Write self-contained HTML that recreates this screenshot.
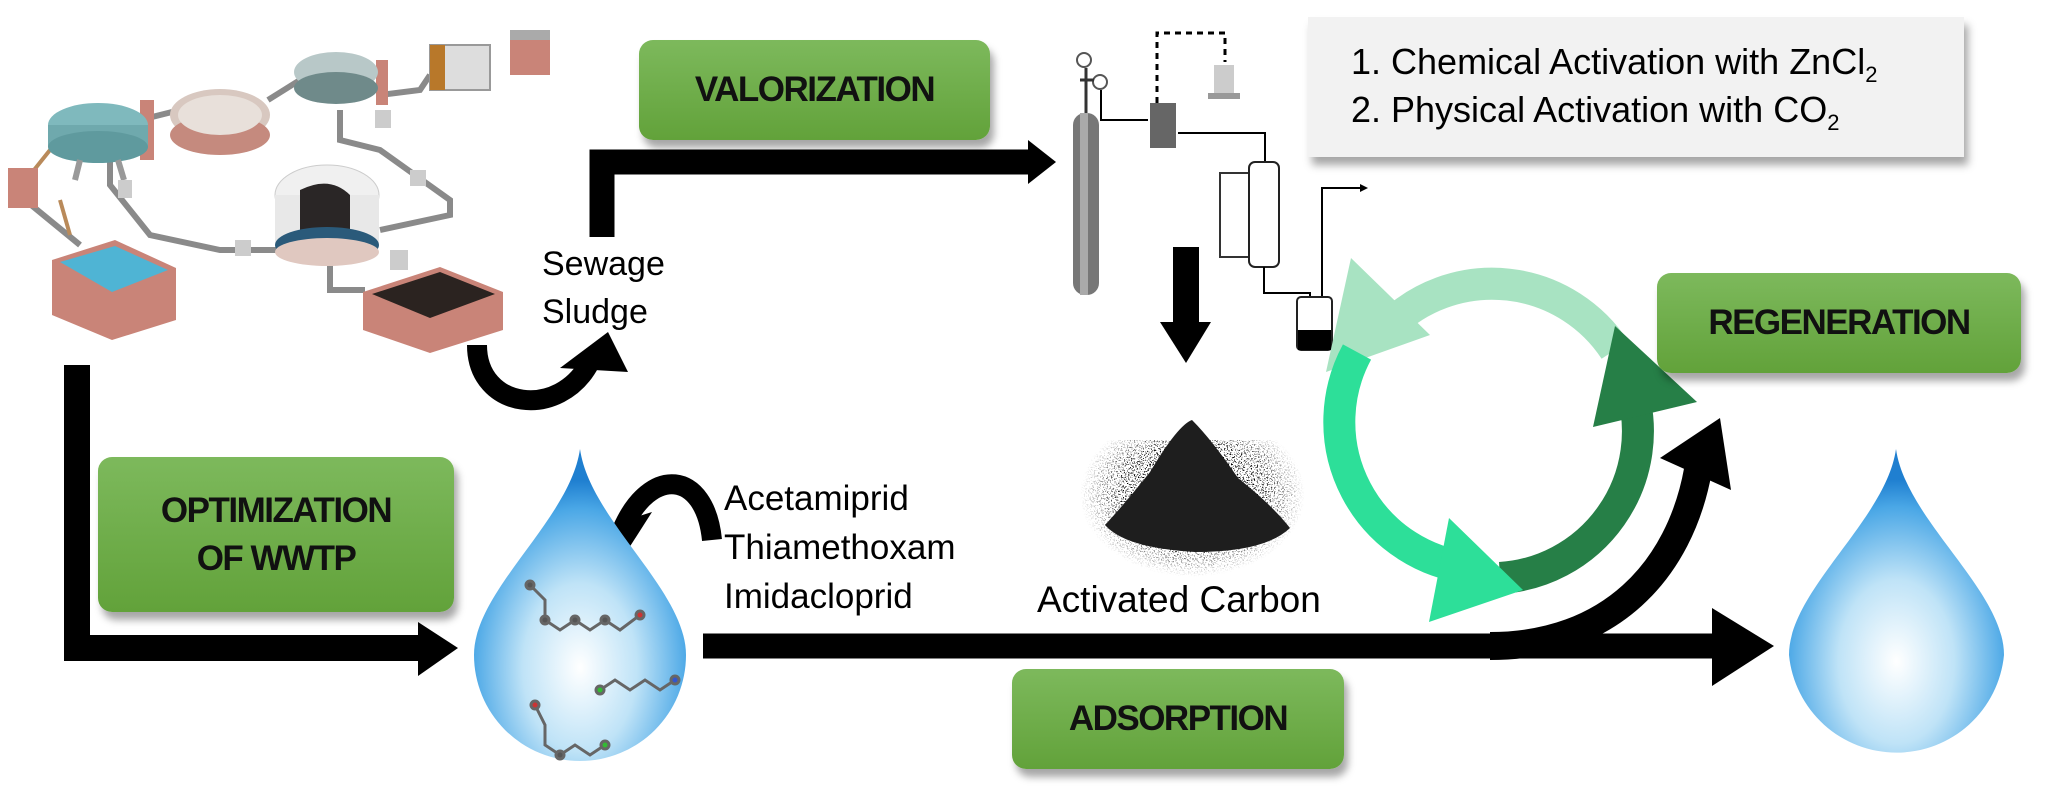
<!DOCTYPE html>
<html><head><meta charset="utf-8">
<style>
html,body{margin:0;padding:0;background:#fff;}
body{width:2048px;height:804px;position:relative;overflow:hidden;font-family:"Liberation Sans",sans-serif;}
.gb{position:absolute;border-radius:14px;background:linear-gradient(#7db95c,#62a23a);box-shadow:4px 8px 8px rgba(0,0,0,0.35);display:flex;align-items:center;justify-content:center;text-align:center;font-weight:bold;color:#111;font-size:35px;letter-spacing:-1.5px;line-height:48px;}
.t{position:absolute;color:#000;font-size:30px;line-height:48px;white-space:nowrap;}
</style></head><body>
<svg width="2048" height="804" style="position:absolute;left:0;top:0">
<defs>
<radialGradient id="dr" cx="0.5" cy="0.7" r="0.6">
<stop offset="0" stop-color="#ffffff"/><stop offset="0.45" stop-color="#bfe3f7"/><stop offset="0.85" stop-color="#4aa7e6"/><stop offset="1" stop-color="#1f7fd0"/>
</radialGradient>
<filter id="noise" x="0" y="0" width="100%" height="100%">
<feTurbulence type="fractalNoise" baseFrequency="0.7" numOctaves="2" seed="3"/>
<feColorMatrix type="matrix" values="0 0 0 0 0  0 0 0 0 0  0 0 0 0 0  0 0 0 -14 6"/>
<feComposite in2="SourceGraphic" operator="in"/>
</filter>
<radialGradient id="mg" cx="0.5" cy="0.45" r="0.5">
<stop offset="0" stop-color="#fff"/><stop offset="0.6" stop-color="#fff"/><stop offset="1" stop-color="#000"/>
</radialGradient>
<mask id="pm"><rect x="1080" y="420" width="225" height="165" fill="url(#mg)"/></mask>
</defs>
<!-- plant -->
<g stroke="#8a8a8a" stroke-width="6" fill="none">
<path d="M110 160 L110 185 L150 235 L220 250 L300 250 L290 230"/>
<path d="M340 110 L340 140 L380 150 L450 200 L450 215 L380 230"/>
<path d="M25 180 L25 200 L80 245"/>
<path d="M140 120 L180 110"/><path d="M268 100 L300 80"/>
<path d="M330 265 L330 290 L365 290"/><path d="M380 95 L420 90 L430 75"/>
</g>
<g stroke="#b98a5a" stroke-width="4" fill="none"><path d="M20 190 L30 175 L50 150"/><path d="M60 200 L70 235"/></g>
<rect x="8" y="168" width="30" height="40" fill="#c98478"/>
<rect x="140" y="100" width="14" height="60" fill="#c98478"/>
<rect x="376" y="60" width="12" height="45" fill="#c98478"/>
<ellipse cx="98" cy="125" rx="50" ry="22" fill="#7fb9bd"/><rect x="48" y="125" width="100" height="22" fill="#6fa9ad"/><ellipse cx="98" cy="147" rx="50" ry="16" fill="#5f9a9e"/>
<path d="M80 160 L75 180 M118 160 L124 180" stroke="#999" stroke-width="6"/>
<ellipse cx="220" cy="115" rx="50" ry="26" fill="#d8c8c0"/><ellipse cx="220" cy="135" rx="50" ry="20" fill="#c58a7e"/><ellipse cx="220" cy="115" rx="42" ry="20" fill="#e8e0da"/>
<ellipse cx="336" cy="72" rx="42" ry="20" fill="#b8c8c8"/><ellipse cx="336" cy="88" rx="42" ry="16" fill="#6f8a8a"/>
<rect x="430" y="45" width="60" height="45" fill="#ddd" stroke="#999" stroke-width="2"/><rect x="430" y="45" width="15" height="45" fill="#b8782a"/>
<rect x="510" y="35" width="40" height="40" fill="#c98478"/><rect x="510" y="30" width="40" height="10" fill="#aaa"/>
<ellipse cx="327" cy="195" rx="52" ry="30" fill="#f0f0f0" stroke="#ccc"/><rect x="275" y="195" width="104" height="50" fill="#e8e8e8"/><path d="M300 190 Q330 175 350 195 L350 250 L300 250 Z" fill="#2a2626"/>
<ellipse cx="327" cy="245" rx="52" ry="18" fill="#2a5a7a"/><ellipse cx="327" cy="252" rx="52" ry="14" fill="#e0c8c0"/>
<polygon points="52,260 115,240 176,268 176,320 112,340 52,315" fill="#c98478"/><polygon points="60,262 115,246 168,270 112,292" fill="#4fb4d4"/>
<polygon points="363,292 440,267 503,292 503,330 430,353 363,330" fill="#c98478"/><polygon points="372,294 440,272 495,294 430,318" fill="#2b2320"/>
<rect x="390" y="250" width="18" height="20" fill="#ccc"/><rect x="118" y="180" width="14" height="18" fill="#ccc"/><rect x="375" y="110" width="16" height="18" fill="#ccc"/><rect x="235" y="240" width="16" height="16" fill="#ccc"/><rect x="410" y="170" width="16" height="16" fill="#ccc"/>
<!-- black arrows -->
<path d="M602 237 L602 162 L1030 162" stroke="#000" stroke-width="25" fill="none"/>
<polygon points="1028,140 1056,162 1028,184" fill="#000"/>
<path d="M477 345 C477 410, 560 420, 590 362" stroke="#000" stroke-width="20" fill="none"/>
<polygon points="560,368 608,332 628,372" fill="#000"/>
<path d="M77 365 L77 648 L420 648" stroke="#000" stroke-width="26" fill="none"/>
<polygon points="418,622 458,648 418,676" fill="#000"/>
<path d="M703 646 L1715 646" stroke="#000" stroke-width="25" fill="none"/>
<polygon points="1712,608 1774,646 1712,686" fill="#000"/>
<path d="M1490 646 C1610 646, 1680 570, 1698 470" stroke="#000" stroke-width="28" fill="none"/>
<polygon points="1720,418 1660,458 1731,490" fill="#000"/>
<path d="M712 540 C705 470, 650 465, 622 530" stroke="#000" stroke-width="20" fill="none"/>
<polygon points="586,533 620,562 652,512" fill="#000"/>
<rect x="1173" y="247" width="26" height="80" fill="#000"/>
<polygon points="1160,322 1211,322 1186,363" fill="#000"/>
<!-- apparatus -->
<rect x="1073" y="113" width="26" height="182" rx="12" fill="#777"/><rect x="1080" y="113" width="8" height="182" fill="#aaa"/>
<circle cx="1084" cy="60" r="7" fill="none" stroke="#555" stroke-width="2"/><circle cx="1100" cy="82" r="7" fill="none" stroke="#555" stroke-width="2"/>
<path d="M1086 68 L1086 113 M1080 80 L1094 80" stroke="#333" stroke-width="3"/>
<path d="M1101 90 L1101 120 L1148 120" stroke="#000" stroke-width="2" fill="none"/>
<rect x="1150" y="103" width="26" height="45" fill="#666"/>
<path d="M1178 133 L1265 133 L1265 162" stroke="#000" stroke-width="2" fill="none"/>
<path d="M1157 103 L1157 33 L1225 33 L1225 62" stroke="#000" stroke-width="3" stroke-dasharray="6,5" fill="none"/>
<rect x="1214" y="65" width="20" height="28" fill="#ccc"/><rect x="1208" y="93" width="32" height="6" fill="#999"/>
<rect x="1220" y="173" width="29" height="84" fill="none" stroke="#333" stroke-width="2"/>
<rect x="1249" y="162" width="30" height="105" rx="6" fill="none" stroke="#222" stroke-width="2"/>
<path d="M1264 267 L1264 293 L1310 293 L1310 297" stroke="#000" stroke-width="2" fill="none"/>
<path d="M1322 297 L1322 188 L1360 188" stroke="#000" stroke-width="2" fill="none"/><polygon points="1360,184 1368,188 1360,192"/>
<rect x="1297" y="297" width="35" height="53" rx="4" fill="#fff" stroke="#222" stroke-width="2"/><rect x="1298" y="330" width="33" height="20" fill="#000"/>
<!-- cycle -->
<path d="M1615 350 A147 147 0 0 0 1390 325" stroke="#a8e3c2" stroke-width="32" fill="none"/>
<polygon points="1351,258 1430,335 1326,372" fill="#a8e3c2"/>
<path d="M1357 352 A147 147 0 0 0 1470 568" stroke="#2ddf99" stroke-width="32" fill="none"/>
<path d="M1500 578 A147 147 0 0 0 1632 390" stroke="#267f47" stroke-width="32" fill="none"/>
<polygon points="1615,326 1697,402 1593,427" fill="#267f47"/>
<polygon points="1449,518 1523,590 1429,622" fill="#2ddf99"/>
<!-- carbon -->
<g mask="url(#pm)"><rect x="1080" y="440" width="225" height="145" fill="#333" filter="url(#noise)"/></g>
<path d="M1105 525 Q1128 500 1150 472 Q1178 425 1192 420 Q1212 440 1238 478 Q1272 505 1290 528 Q1265 552 1195 552 Q1125 548 1105 525 Z" fill="#1e1e1e"/>
<!-- drops -->
<path d="M580 449 C590 520, 686 590, 686 655 A106 106 0 0 1 474 655 C474 590, 570 520, 580 449 Z" fill="url(#dr)"/>
<path d="M1896 449 C1906 520, 2004 590, 2004 655 A108 108 0 0 1 1789 655 C1789 590, 1886 520, 1896 449 Z" fill="url(#dr)"/>
<g stroke="#666" stroke-width="3" fill="#555">
<path d="M530 585 L545 600 L545 620 L560 630 L575 620 L590 630 L605 620 L620 630 L640 615" fill="none"/>
<path d="M600 690 L615 680 L630 690 L645 680 L660 690 L675 680" fill="none"/>
<path d="M535 705 L545 725 L545 745 L560 755 L575 745 L590 755 L605 745" fill="none"/>
<circle cx="530" cy="585" r="4"/><circle cx="545" cy="620" r="4"/><circle cx="575" cy="620" r="4"/><circle cx="605" cy="620" r="4"/><circle cx="640" cy="615" r="4" fill="#c33"/><circle cx="600" cy="690" r="4" fill="#3b3"/><circle cx="675" cy="680" r="4" fill="#35c"/><circle cx="535" cy="705" r="4" fill="#c33"/><circle cx="605" cy="745" r="4" fill="#3b3"/><circle cx="560" cy="755" r="4"/></g>
</svg>
<div class="gb" style="left:639px;top:40px;width:351px;height:100px;">VALORIZATION</div>
<div class="gb" style="left:98px;top:457px;width:356px;height:155px;">OPTIMIZATION<br>OF WWTP</div>
<div class="gb" style="left:1012px;top:669px;width:332px;height:100px;">ADSORPTION</div>
<div class="gb" style="left:1657px;top:273px;width:364px;height:100px;">REGENERATION</div>
<div style="position:absolute;left:1308px;top:17px;width:656px;height:140px;background:#f2f2f2;box-shadow:4px 8px 8px rgba(0,0,0,0.35);"></div>
<div class="t" style="left:1351px;top:38px;font-size:36px;">1. Chemical Activation with ZnCl<sub style="font-size:22px">2</sub></div>
<div class="t" style="left:1351px;top:86px;font-size:36px;">2. Physical Activation with CO<sub style="font-size:22px">2</sub></div>
<div class="t" style="left:542px;top:240px;font-size:34px;">Sewage<br>Sludge</div>
<div class="t" style="left:724px;top:474px;font-size:35px;line-height:49px;">Acetamiprid<br>Thiamethoxam<br>Imidacloprid</div>
<div class="t" style="left:1037px;top:576px;font-size:37px;">Activated Carbon</div>
</body></html>
